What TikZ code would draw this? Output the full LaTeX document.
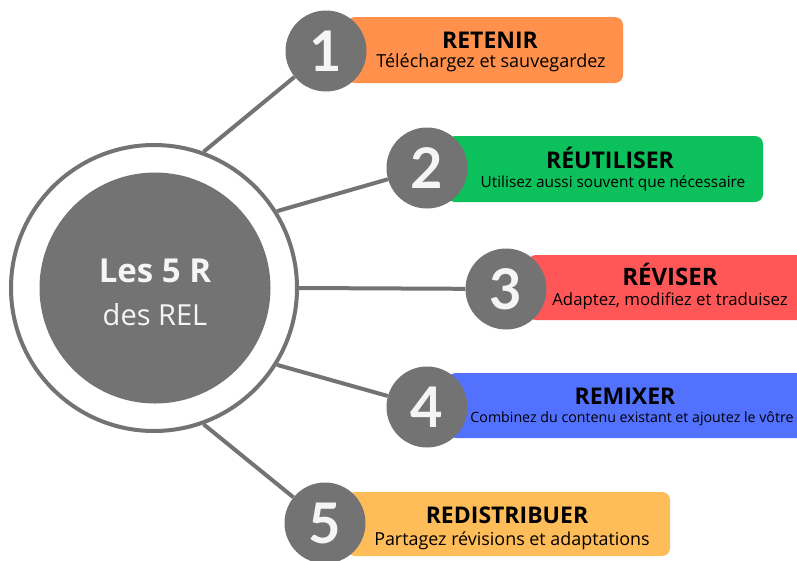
\documentclass[tikz,border=0pt]{standalone}
\usepackage{fontspec}
\setmainfont{Open Sans}
\newfontfamily\numfont{Lato}
\definecolor{grisR}{HTML}{737373}
\definecolor{orangeR}{HTML}{FF914D}
\definecolor{vertR}{HTML}{0CC05C}
\definecolor{rougeR}{HTML}{FF5757}
\definecolor{bleuR}{HTML}{5271FF}
\definecolor{jauneR}{HTML}{FFBD59}
\begin{document}
\begin{tikzpicture}[x=1pt,y=-1pt,
    num/.style={circle,fill=grisR,minimum size=81pt,inner sep=0pt,text=white!96!black,
      font=\numfont\fontsize{56}{56}\selectfont\bfseries},
    tag/.style={rounded corners=8pt},
    titre/.style={anchor=base,font=\fontsize{#1}{#1}\selectfont\bfseries},
    titre/.default=23,
    sous/.style={anchor=base,font=\fontsize{#1}{#1}\selectfont},
    lien/.style={draw=grisR,line width=4pt}]
  \useasboundingbox (0,0) rectangle (797,560);
  \clip (0,0) rectangle (797,560);
  % centre
  \node[circle,draw=grisR,line width=4pt,minimum size=286pt,inner sep=0pt] (ring) at (154,288) {};
  \node[circle,fill=grisR,minimum size=231pt,inner sep=0pt] (rel) at (155,288) {};
  \node[anchor=base,text=white!96!black,font=\fontsize{33}{33}\selectfont\bfseries] (les) at (155,282) {Les 5 R};
  \node[anchor=base,text=white!96!black,font=\fontsize{29}{29}\selectfont] (des) at (155,325) {des REL};
  % bandeaux
  \fill[tag,orangeR] (347,17) rectangle (623,83);
  \fill[tag,vertR] (447,136) rectangle (763,202);
  \fill[tag,rougeR] (528,255) rectangle (810,320);
  \fill[tag,bleuR] (448,373) rectangle (810,438);
  \fill[tag,jauneR] (347,492) rectangle (670,556);
  % numeros
  \node[num] (n1) at (326,51) {1};
  \node[num] (n2) at (427,168) {2};
  \node[num] (n3) at (506,289) {3};
  \node[num] (n4) at (427,407) {4};
  \node[num] (n5) at (325,523) {5};
  % liens
  \draw[lien] (ring.70) -- (n1);
  \draw[lien] (ring.32) -- (n2);
  \draw[lien] (ring.0) -- (n3);
  \draw[lien] (ring.-32) -- (n4);
  \draw[lien] (ring.-70) -- (n5);
  % textes
  \node[titre] (h1) at (490,48) {RETENIR};
  \node[sous=18] (s1) at (491,67) {Téléchargez et sauvegardez};
  \node[titre] (h2) at (610,168) {RÉUTILISER};
  \node[sous=15.4] (s2) at (613,187) {Utilisez aussi souvent que nécessaire};
  \node[titre=24] (h3) at (670,285) {RÉVISER};
  \node[sous=16.8] (s3) at (670,305) {Adaptez, modifiez et traduisez};
  \node[titre] (h4) at (625,404) {REMIXER};
  \node[sous=14.2] (s4) at (632,422) {Combinez du contenu existant et ajoutez le vôtre};
  \node[titre] (h5) at (507,523) {REDISTRIBUER};
  \node[sous=17.9] (s5) at (512,545) {Partagez révisions et adaptations};
\end{tikzpicture}
\end{document}
